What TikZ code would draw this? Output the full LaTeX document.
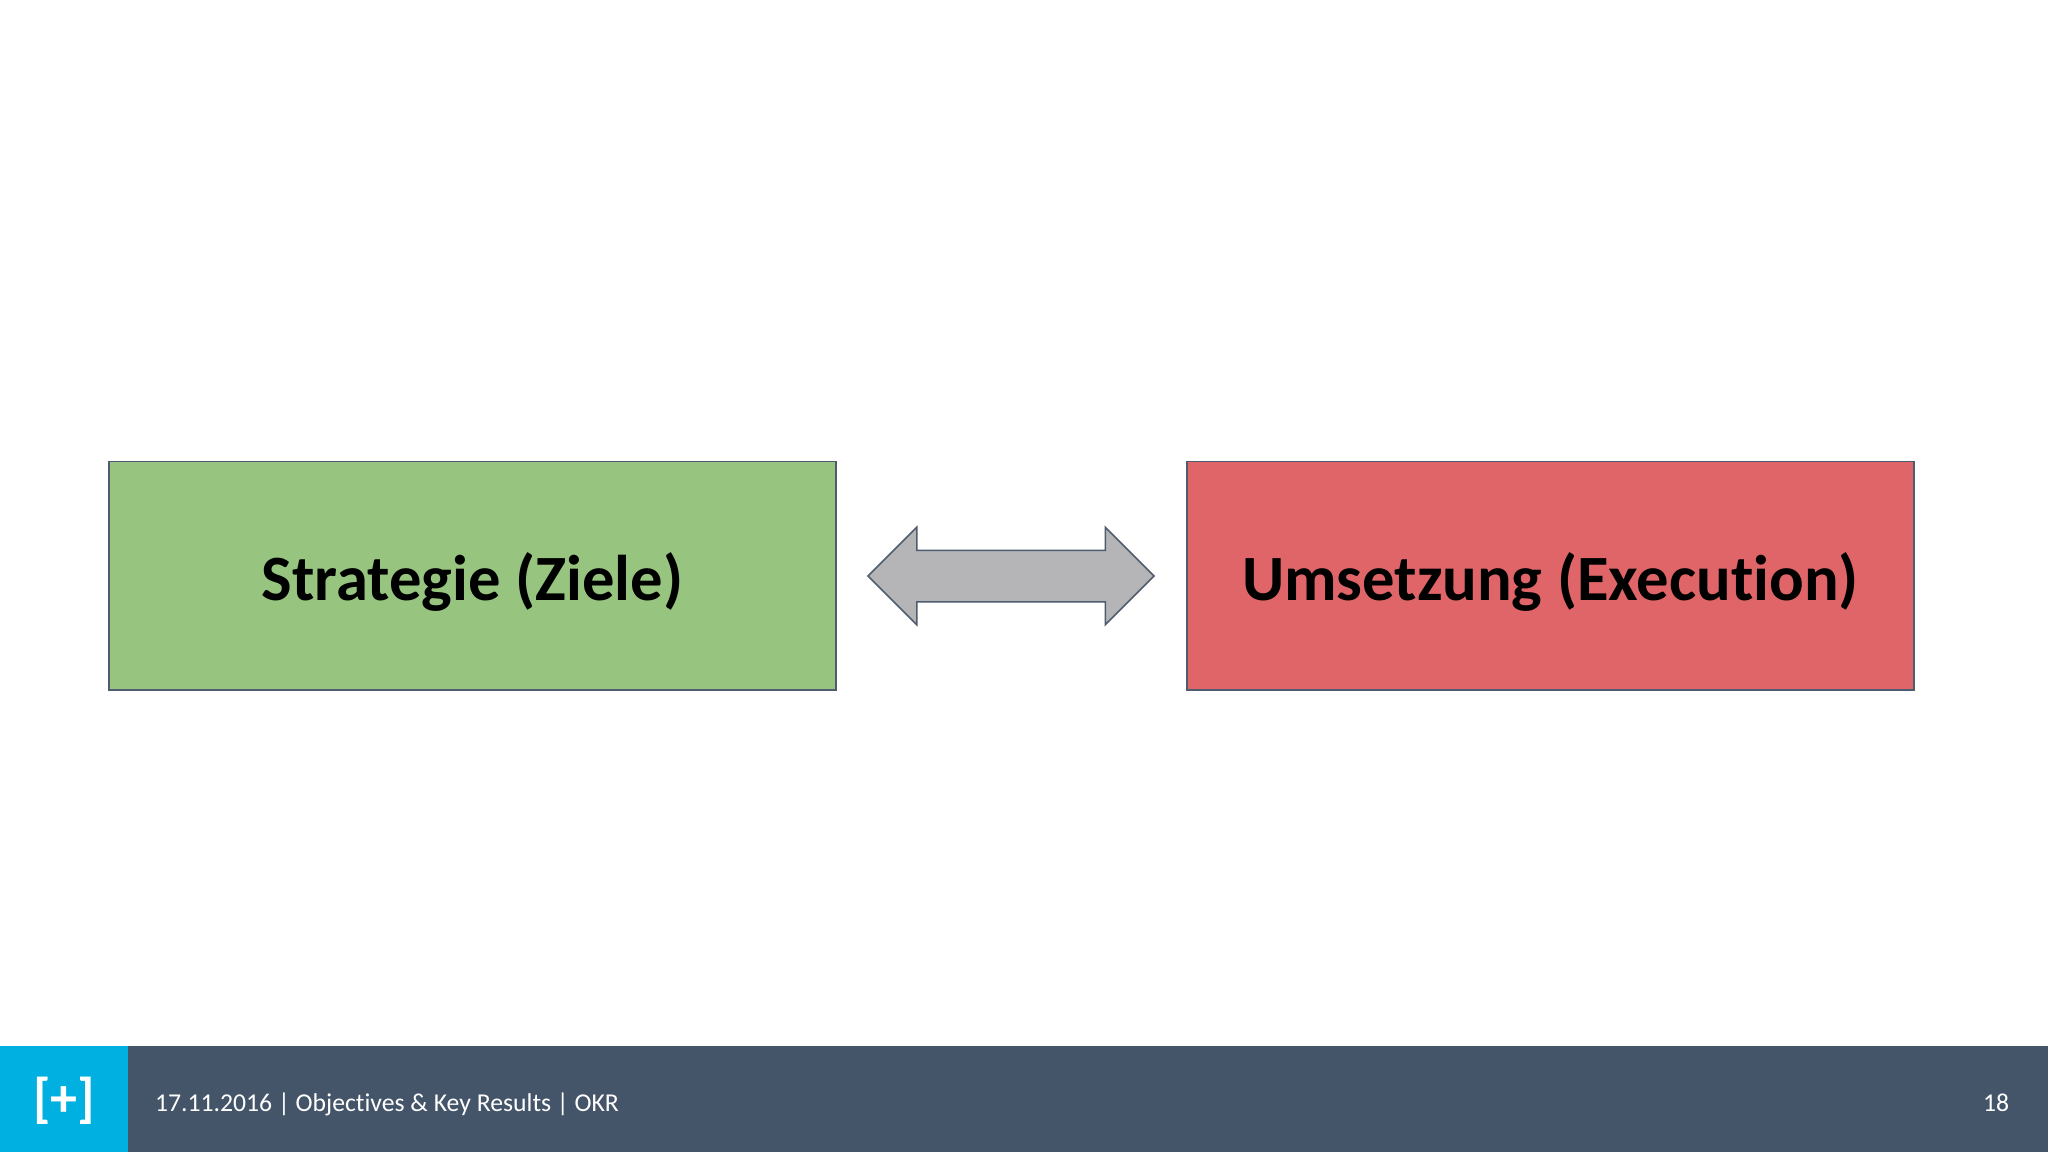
\documentclass[tikz,border=0pt]{standalone}
\usepackage{fontspec}
\usetikzlibrary{shapes.arrows}
\setmainfont[Ligatures=NoCommon]{Carlito}
\definecolor{boxline}{HTML}{4F5B6E}
\definecolor{boxgreen}{HTML}{97C47E}
\definecolor{boxred}{HTML}{E06568}
\definecolor{arrowgray}{HTML}{B5B5B7}
\definecolor{footerblue}{HTML}{445469}
\definecolor{logocyan}{HTML}{00B0E0}
\tikzset{
  box/.style={draw=boxline,line width=0.75pt,minimum width=363.5pt,minimum height=114.25pt,inner sep=0pt,outer sep=0pt,
    font=\fontsize{32.3pt}{36pt}\selectfont\bfseries,text=black},
  twoway/.style={double arrow,draw=boxline,line width=0.75pt,fill=arrowgray,
    minimum height=143pt,double arrow head extend=11.5pt,double arrow tip angle=90,inner sep=0pt,outer sep=0pt},
  foot/.style={text=white,font=\fontsize{12.85pt}{15pt}\selectfont,inner sep=0pt,outer sep=0pt}
}
\begin{document}
\begin{tikzpicture}[x=0.5pt,y=-0.5pt]
\useasboundingbox (0,0) rectangle (2048,1152);
\fill[white] (0,0) rectangle (2048,1152);
\fill[footerblue] (0,1046) rectangle (2048,1152);
\fill[logocyan] (0,1046) rectangle (128,1152);
\node[foot,font=\fontsize{27pt}{30pt}\selectfont\bfseries] (logo) at (64,1101) {[+]};
\node[foot,anchor=base west] (footer) at (155,1111.5) {17.11.2016 | Objectives \& Key Results | OKR};
\node[foot,anchor=base] (page) at (1996,1111.5) {18};
\node[box,fill=boxgreen] (strategie) at (472.5,575.75) {\smash{\raisebox{-12.5pt}{Strategie (Ziele)}}};
\node[box,fill=boxred] (umsetzung) at (1550.5,575.75) {\smash{\raisebox{-12.5pt}{Umsetzung (Execution)}}};
\node[twoway] (arrow) at (1011,576) {\rule{0pt}{25pt}};
\end{tikzpicture}
\end{document}
